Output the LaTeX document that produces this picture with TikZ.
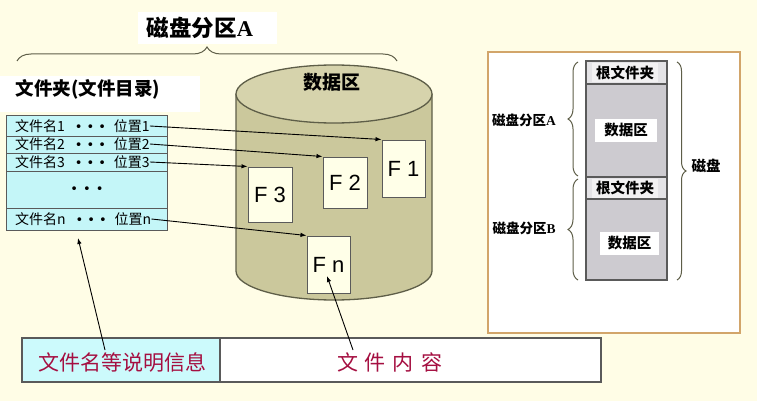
\documentclass[tikz,border=0pt]{standalone}
\usepackage{fontspec}
\setmainfont{Liberation Sans}
\newfontfamily\cjk{Noto Sans CJK SC}
\newfontfamily\serifb{Liberation Serif}
\newfontfamily\dejav{DejaVu Sans}
\usetikzlibrary{decorations.pathreplacing,arrows.meta}
\definecolor{bgc}{RGB}{255,253,230}
\definecolor{cyanf}{RGB}{196,246,248}
\definecolor{cyanb}{RGB}{204,250,252}
\definecolor{cylbody}{RGB}{203,200,156}
\definecolor{cyltop}{RGB}{214,211,172}
\definecolor{cylline}{RGB}{94,94,72}
\definecolor{fcream}{RGB}{255,255,232}
\definecolor{edgegray}{RGB}{90,90,90}
\definecolor{redtext}{RGB}{165,15,65}
\definecolor{panelline}{RGB}{210,165,106}
\definecolor{rootgray}{RGB}{228,227,230}
\definecolor{datagray}{RGB}{205,203,208}
\newcommand{\fs}[1]{\fontsize{#1}{#1}\selectfont}
\newcommand{\bul}{{\dejav\fs{13}•}}
\newcommand{\dotrow}{\hspace{10pt}\bul\hspace{4pt}\bul\hspace{4pt}\bul\hspace{8pt}}
\tikzset{
  arr/.style={draw=black, line width=0.9, -{Latex[length=6,width=4.5]}},
  rowbox/.style={draw=edgegray, fill=cyanf, line width=1, minimum width=161, inner sep=0},
  rowtxt/.style={inner sep=0, anchor=west, font=\cjk\fs{14}},
  fbox/.style={draw=edgegray, fill=fcream, line width=1, inner sep=0, font=\fs{22}},
  cell/.style={draw=edgegray, line width=1.5, inner sep=0, minimum height=44},
  bigred/.style={inner sep=0, text=redtext, font=\cjk\fs{21}},
  stackbox/.style={draw=edgegray, line width=1.2, minimum width=81, inner sep=0},
  plbl/.style={inner sep=0, font=\cjk\bfseries\fs{13.5}},
  wlbl/.style={fill=white, inner sep=0, font=\cjk\bfseries\fs{14.5}},
  brc/.style={decorate, decoration={brace, amplitude=#1}, draw=cylline, line width=1},
}
\begin{document}
\begin{tikzpicture}[x=1pt,y=-1pt]
\fill[bgc] (0,0) rectangle (757,401);
\useasboundingbox (0,0) rectangle (757,401);

% title and brace
\fill[white] (138,12) rectangle (277,44);
\node[inner sep=0, font=\fs{22.5}] (title) at (200,28) {{\cjk\bfseries 磁盘分区}{\serifb\bfseries A}};
\draw[brc=14] (17,61) -- (397,61);

% folder label
\fill[white] (0,76) rectangle (200,112);
\node[inner sep=0, font=\cjk\bfseries\fs{18.5}] (folder) at (88,89) {文件夹(文件目录)};

% cylinder
\fill[cylbody] (236,94) -- (236,271) .. controls (236,287) and (280,300) .. (334,300)
  .. controls (388,300) and (432,287) .. (432,271) -- (432,94) -- cycle;
\draw[cylline, line width=1.3] (236,94) -- (236,271) .. controls (236,287) and (280,300) .. (334,300)
  .. controls (388,300) and (432,287) .. (432,271) -- (432,94);
\draw[cylline, line width=1.3, fill=cyltop] (334,94) ellipse [x radius=98, y radius=29];
\node[inner sep=0, font=\cjk\bfseries\fs{19}] (datalbl) at (332,82) {数据区};

% file boxes
\node[fbox, minimum width=43, minimum height=57] (F1) at (403.5,168.5) {F 1};
\node[fbox, minimum width=44, minimum height=51] (F2) at (345,182.5) {F 2};
\node[fbox, minimum width=44, minimum height=55] (F3) at (270,194.5) {F 3};
\node[fbox, minimum width=43, minimum height=57] (Fn) at (328.5,264.5) {F n};

% directory table
\node[rowbox, minimum height=20] (r1) at (86.5,126) {};
\node[rowbox, minimum height=17] (r2) at (86.5,144.5) {};
\node[rowbox, minimum height=18] (r3) at (86.5,162) {};
\node[rowbox, minimum height=37] (rd) at (86.5,189.5) {};
\node[rowbox, minimum height=22] (rn) at (86.5,219) {};
\node[rowtxt] (t1) at (15,126) {文件名1\dotrow 位置1};
\node[rowtxt] (t2) at (15,144) {文件名2\dotrow 位置2};
\node[rowtxt] (t3) at (15,162) {文件名3\dotrow 位置3};
\node[inner sep=0] (td) at (87,190) {\bul\hspace{5pt}\bul\hspace{5pt}\bul};
\node[rowtxt] (tn) at (15,219) {文件名n\dotrow 位置n};

% arrows from table to files
\draw[arr] (t1.east) -- (F1.north west);
\draw[arr] (t2.east) -- (F2.north west);
\draw[arr] (t3.east) -- (F3.north west);
\draw[arr] (tn.east) -- (Fn.north west);

% bottom bar
\node[cell, fill=cyanb, minimum width=198] (meta) at (121,360) {};
\node[cell, fill=white, minimum width=381] (content) at (410.5,360) {};
\node[bigred] (metatxt) at (122.5,362) {文件名等说明信息};
\node[bigred] (contenttxt) at (389.5,362) {文\hspace{7pt}件\hspace{7pt}内\hspace{7pt}容};
\coordinate (s1) at (105,350);
\coordinate (e1) at (78,238);
\coordinate (s2) at (353,350);
\coordinate (e2) at (327,276);
\draw[arr] (s1) -- (e1);
\draw[arr] (s2) -- (e2);

% right panel
\draw[panelline, fill=white, line width=1.2] (488,52) rectangle (740,333);
\node[stackbox, fill=rootgray, minimum height=23] (root1) at (626.5,72.5) {};
\node[stackbox, fill=datagray, minimum height=93] (data1) at (626.5,130.5) {};
\node[stackbox, fill=rootgray, minimum height=22] (root2) at (626.5,188) {};
\node[stackbox, fill=datagray, minimum height=81] (data2) at (626.5,239.5) {};
\node[wlbl, fill=rootgray!50!white, minimum width=66, minimum height=19] (rl1) at (625,72.5) {根文件夹};
\node[wlbl, fill=rootgray!50!white, minimum width=66, minimum height=19] (rl2) at (625,188) {根文件夹};
\node[wlbl, minimum width=62, minimum height=23] (dl1) at (626,130.5) {数据区};
\node[wlbl, minimum width=59, minimum height=23] (dl2) at (629.5,243.5) {数据区};
\draw[brc=10] (578,176) -- (578,62);
\draw[brc=10] (578,280) -- (578,179);
\draw[brc=9] (677,62) -- (677,280);
\node[plbl] (pa) at (524,120) {磁盘分区{\serifb\bfseries A}};
\node[plbl] (pb) at (524,228) {磁盘分区{\serifb\bfseries B}};
\node[plbl, font=\cjk\bfseries\fs{14.5}] (disk) at (706,166) {磁盘};
\end{tikzpicture}
\end{document}
